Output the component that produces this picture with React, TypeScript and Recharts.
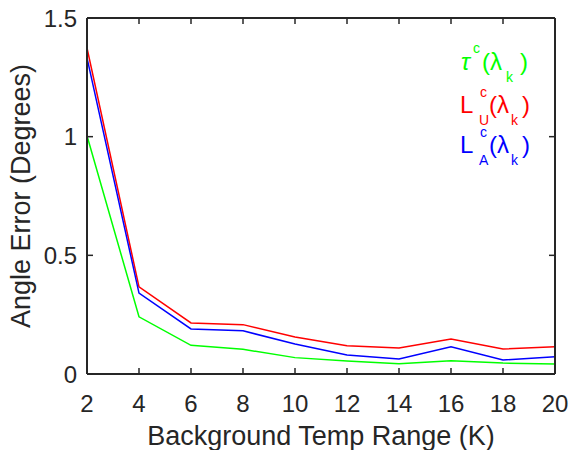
import React from 'react';
import { LineChart, Line, XAxis, YAxis, Legend } from 'recharts';

// background temperature range (K)
const tempRange = [2, 4, 6, 8, 10, 12, 14, 16, 18, 20];
// angle error (degrees) per estimator
const tauErr = [1.004, 0.241, 0.121, 0.104, 0.069, 0.055, 0.043, 0.056, 0.046, 0.042];
const luErr = [1.374, 0.367, 0.215, 0.208, 0.156, 0.119, 0.11, 0.147, 0.105, 0.115];
const laErr = [1.332, 0.341, 0.19, 0.182, 0.126, 0.08, 0.063, 0.115, 0.059, 0.073];

const xTicks = [2, 4, 6, 8, 10, 12, 14, 16, 18, 20];
const yTicks = [0, 0.5, 1, 1.5];

const series = [
  { key: 'tau', name: 'τc(λk)', color: '#00ff00' },
  { key: 'lu', name: 'LcU(λk)', color: '#ff0000' },
  { key: 'la', name: 'LcA(λk)', color: '#0000ff' },
];

const data = tempRange.map((t, i) => ({
  range: t,
  tau: tauErr[i],
  lu: luErr[i],
  la: laErr[i],
}));

const FONT = '"Liberation Sans", Arial, Helvetica, sans-serif';
const INK = '#262626';

// TeX-like legend labels: tau^c(lambda_k), L^c_U(lambda_k), L^c_A(lambda_k)
function LegendBox() {
  const big = 24;
  const small = 14;
  return (
    <svg width={90} height={140} style={{ fontFamily: FONT, overflow: 'visible' }}>
      <text fill={series[0].color} fontSize={big}>
        <tspan x={6} y={30} fontStyle="italic">τ</tspan>
        <tspan x={18} y={13} fontSize={small}>c</tspan>
        <tspan x={27} y={30}>(</tspan>
        <tspan x={35} y={30}>λ</tspan>
        <tspan x={51} y={42} fontSize={small}>k</tspan>
        <tspan x={65} y={30}>)</tspan>
      </text>
      {[
        { s: series[1], sub: 'U', base: 73 },
        { s: series[2], sub: 'A', base: 113 },
      ].map(({ s, sub, base }) => (
        <text key={s.key} fill={s.color} fontSize={big}>
          <tspan x={5} y={base}>L</tspan>
          <tspan x={25} y={base - 16} fontSize={small}>c</tspan>
          <tspan x={24} y={base + 12} fontSize={small}>{sub}</tspan>
          <tspan x={34} y={base}>(</tspan>
          <tspan x={42} y={base}>λ</tspan>
          <tspan x={56} y={base + 12} fontSize={small}>k</tspan>
          <tspan x={67} y={base}>)</tspan>
        </text>
      ))}
    </svg>
  );
}

export default function App() {
  const tickStyle = { fontSize: 24, fill: INK, fontFamily: FONT };
  const axisLine = { stroke: INK, strokeWidth: 2 };
  const tickLine = { stroke: INK, strokeWidth: 1.5 };

  return (
    <div style={{ fontFamily: FONT }}>
      <style>{'body { margin: 0; }'}</style>
      <LineChart
        width={570}
        height={450}
        data={data}
        margin={{ top: 17, right: 14, bottom: 0, left: 0 }}
      >
        <XAxis
          dataKey="range"
          type="number"
          domain={[2, 20]}
          ticks={xTicks}
          allowDataOverflow
          height={76}
          tickSize={-6}
          tickMargin={27}
          tick={tickStyle}
          axisLine={axisLine}
          tickLine={tickLine}
          label={{
            value: 'Background Temp Range (K)',
            position: 'insideBottom',
            offset: 5,
            style: { fontSize: 27, fill: INK, fontFamily: FONT },
          }}
        />
        <XAxis
          xAxisId="top"
          dataKey="range"
          type="number"
          orientation="top"
          domain={[2, 20]}
          ticks={xTicks}
          allowDataOverflow
          height={1}
          tickSize={-6}
          tickFormatter={() => ''}
          axisLine={axisLine}
          tickLine={tickLine}
        />
        <YAxis
          type="number"
          domain={[0, 1.5]}
          ticks={yTicks}
          allowDataOverflow
          width={87}
          tickSize={-6}
          tickMargin={16}
          tick={tickStyle}
          tickFormatter={(v: number) => String(v)}
          axisLine={axisLine}
          tickLine={tickLine}
          label={{
            value: 'Angle Error (Degrees)',
            angle: -90,
            position: 'insideLeft',
            offset: 20,
            style: { fontSize: 27, fill: INK, fontFamily: FONT, textAnchor: 'middle' },
          }}
        />
        <YAxis
          yAxisId="right"
          orientation="right"
          type="number"
          domain={[0, 1.5]}
          ticks={yTicks}
          allowDataOverflow
          width={1}
          tickSize={-6}
          tickFormatter={() => ''}
          axisLine={axisLine}
          tickLine={tickLine}
        />
        <Legend
          layout="horizontal"
          verticalAlign="middle"
          align="center"
          content={() => <LegendBox />}
          wrapperStyle={{ position: 'absolute', left: 455, top: 40, width: 90, height: 140 }}
        />
        {series.map((s) => (
          <Line
            key={s.key}
            type="linear"
            dataKey={s.key}
            name={s.name}
            stroke={s.color}
            strokeWidth={1.5}
            dot={false}
            activeDot={false}
            isAnimationActive={false}
          />
        ))}
      </LineChart>
    </div>
  );
}
